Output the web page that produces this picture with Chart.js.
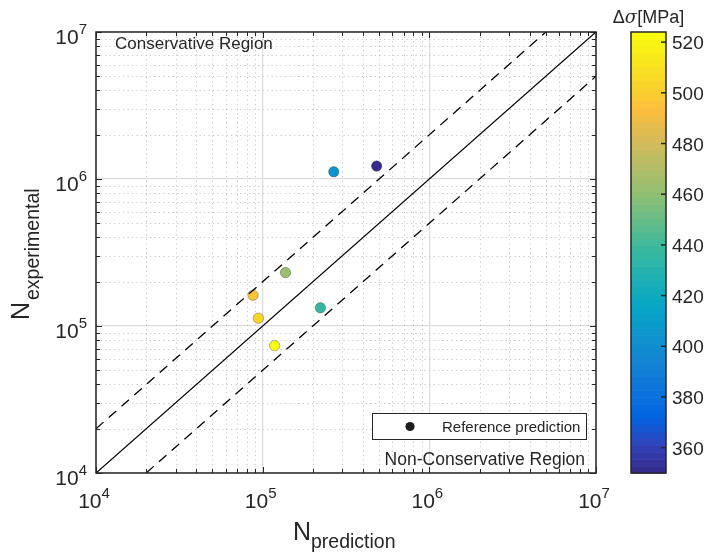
<!DOCTYPE html>
<html>
<head>
<meta charset="utf-8">
<script src="https://cdn.jsdelivr.net/npm/chart.js@4/dist/chart.umd.min.js"></script>
<style>
  html, body { margin: 0; padding: 0; background: #fff; }
  canvas { display: block; }
</style>
</head>
<body>
<canvas id="life-chart" width="705" height="559"></canvas>
<script>
'use strict';

// predicted vs experimental fatigue life, one entry per specimen
const nPrediction = [2.67e5, 4.83e5, 1.37e5, 8.75e4, 9.42e4, 2.22e5, 1.18e5];
const nExperimental = [1.12e6, 1.225e6, 2.31e5, 1.62e5, 1.13e5, 1.33e5, 7.35e4];
const stressRange = [405, 350, 464, 497, 503, 436, 524];

const axisMin = 1e4;
const axisMax = 1e7;
const decadeTicks = [1e4, 1e5, 1e6, 1e7];
const colorbarTicks = [360, 380, 400, 420, 440, 460, 480, 500, 520];
const scatterBand = 2;

const fontFamily = '"Liberation Sans", Arial, Helvetica, sans-serif';
const inkColor = '#262626';

// parula-like colormap stops [t, r, g, b]
const parulaStops = [
    [0.000, 53, 42, 135],
    [0.063, 50, 67, 186],
    [0.127, 3, 99, 225],
    [0.190, 13, 117, 220],
    [0.254, 20, 133, 212],
    [0.381, 6, 167, 198],
    [0.508, 56, 185, 158],
    [0.635, 146, 191, 115],
    [0.762, 217, 186, 86],
    [0.825, 253, 190, 61],
    [0.889, 247, 216, 38],
    [1.000, 249, 251, 14]
];

const cMin = Math.min(...stressRange);
const cMax = Math.max(...stressRange);

function parula(t) {
    t = Math.max(0, Math.min(1, t));
    for (let i = 1; i < parulaStops.length; i++) {
        let a = parulaStops[i - 1];
        let b = parulaStops[i];
        if (t <= b[0]) {
            let f = (t - a[0]) / (b[0] - a[0]);
            let rgb = [1, 2, 3].map(k => Math.round(a[k] + (b[k] - a[k]) * f));
            return `rgb(${rgb[0]},${rgb[1]},${rgb[2]})`;
        }
    }
    return 'rgb(249,251,14)';
}

function colorForStress(v) {
    return parula((v - cMin) / (cMax - cMin));
}

let scatterPoints = nPrediction.map((x, i) => ({ x: x, y: nExperimental[i] }));
let pointColors = stressRange.map(colorForStress);

let oneToOne = [{ x: axisMin, y: axisMin }, { x: axisMax, y: axisMax }];
let upperBand = [{ x: axisMin, y: axisMin * scatterBand }, { x: axisMax / scatterBand, y: axisMax }];
let lowerBand = [{ x: axisMin * scatterBand, y: axisMin }, { x: axisMax, y: axisMax / scatterBand }];

function minorValues() {
    let vals = [];
    for (let d = axisMin; d < axisMax; d *= 10) {
        for (let m = 2; m <= 9; m++) {
            vals.push(d * m);
        }
    }
    return vals;
}

function drawPower(ctx, exp, x, y, align) {
    ctx.font = `21px ${fontFamily}`;
    let baseW = ctx.measureText('10').width;
    ctx.font = `15px ${fontFamily}`;
    let expW = ctx.measureText(String(exp)).width;
    let left = align === 'center' ? x - (baseW + expW) / 2 : x - baseW - expW;
    ctx.textAlign = 'left';
    ctx.textBaseline = 'alphabetic';
    ctx.font = `21px ${fontFamily}`;
    ctx.fillText('10', left, y);
    ctx.font = `15px ${fontFamily}`;
    ctx.fillText(String(exp), left + baseW, y - 10);
}

const matlabAxes = {
    id: 'matlabAxes',
    beforeDatasetsDraw(chart) {
        let ctx = chart.ctx;
        let area = chart.chartArea;
        let xs = chart.scales.x;
        let ys = chart.scales.y;
        ctx.save();
        ctx.strokeStyle = 'rgba(175,175,175,0.7)';
        ctx.lineWidth = 1;
        ctx.setLineDash([1.2, 3.3]);
        minorValues().forEach(v => {
            let px = Math.round(xs.getPixelForValue(v)) + 0.5;
            ctx.beginPath();
            ctx.moveTo(px, area.top);
            ctx.lineTo(px, area.bottom);
            ctx.stroke();
            let py = Math.round(ys.getPixelForValue(v)) + 0.5;
            ctx.beginPath();
            ctx.moveTo(area.left, py);
            ctx.lineTo(area.right, py);
            ctx.stroke();
        });
        ctx.restore();
    },
    afterDatasetsDraw(chart) {
        let ctx = chart.ctx;
        let area = chart.chartArea;
        let xs = chart.scales.x;
        let ys = chart.scales.y;
        ctx.save();

        // tick marks on all four sides, pointing inwards
        ctx.strokeStyle = inkColor;
        ctx.lineWidth = 1;
        let tickList = decadeTicks.map(v => [v, 6]).concat(minorValues().map(v => [v, 4]));
        tickList.forEach(([v, len]) => {
            let px = Math.round(xs.getPixelForValue(v)) + 0.5;
            let py = Math.round(ys.getPixelForValue(v)) + 0.5;
            ctx.beginPath();
            ctx.moveTo(px, area.bottom); ctx.lineTo(px, area.bottom - len);
            ctx.moveTo(px, area.top); ctx.lineTo(px, area.top + len);
            ctx.moveTo(area.left, py); ctx.lineTo(area.left + len, py);
            ctx.moveTo(area.right, py); ctx.lineTo(area.right - len, py);
            ctx.stroke();
        });

        // axes box
        ctx.lineWidth = 1.5;
        ctx.strokeRect(area.left, area.top, area.right - area.left, area.bottom - area.top);

        // tick labels
        ctx.fillStyle = inkColor;
        decadeTicks.forEach(v => {
            let exp = Math.round(Math.log10(v));
            drawPower(ctx, exp, xs.getPixelForValue(v) - 2, area.bottom + 35, 'center');
            drawPower(ctx, exp, area.left - 9, ys.getPixelForValue(v) + 11.5, 'right');
        });

        // axis titles
        ctx.textAlign = 'left';
        ctx.font = `25px ${fontFamily}`;
        ctx.fillText('N', 293, 540);
        ctx.font = `19.5px ${fontFamily}`;
        ctx.fillText('prediction', 311, 548);

        ctx.save();
        ctx.translate(29, 320);
        ctx.rotate(-Math.PI / 2);
        ctx.font = `25px ${fontFamily}`;
        ctx.fillText('N', 0, 0);
        ctx.font = `19.5px ${fontFamily}`;
        ctx.fillText('experimental', 20, 10);
        ctx.restore();

        // region notes
        ctx.font = `17px ${fontFamily}`;
        ctx.textAlign = 'left';
        ctx.fillText('Conservative Region', area.left + 19, area.top + 17);
        ctx.font = `17.5px ${fontFamily}`;
        ctx.textAlign = 'right';
        ctx.fillText('Non-Conservative Region', area.right - 11, area.bottom - 8);

        // legend box
        let lx = 372, ly = 413, lw = 214, lh = 26;
        ctx.fillStyle = '#fff';
        ctx.fillRect(lx, ly, lw, lh);
        ctx.strokeStyle = inkColor;
        ctx.lineWidth = 1;
        ctx.strokeRect(lx + 0.5, ly + 0.5, lw, lh);
        ctx.fillStyle = '#1c1c1c';
        ctx.beginPath();
        ctx.arc(410, 426.5, 4.6, 0, Math.PI * 2);
        ctx.fill();
        ctx.fillStyle = inkColor;
        ctx.font = `15px ${fontFamily}`;
        ctx.textAlign = 'left';
        ctx.fillText(chart.data.datasets[3].label, 442, 432);

        // colorbar
        let cbLeft = 631, cbRight = 666;
        let cbTop = area.top, cbBottom = area.bottom;
        let bands = 64;
        let bandH = (cbBottom - cbTop) / bands;
        for (let i = 0; i < bands; i++) {
            ctx.fillStyle = parula((i + 0.5) / bands);
            ctx.fillRect(cbLeft, cbBottom - (i + 1) * bandH, cbRight - cbLeft, bandH + 0.6);
        }
        ctx.strokeStyle = inkColor;
        ctx.lineWidth = 1.5;
        ctx.strokeRect(cbLeft, cbTop, cbRight - cbLeft, cbBottom - cbTop);
        ctx.lineWidth = 1.5;
        ctx.fillStyle = inkColor;
        ctx.font = `19px ${fontFamily}`;
        ctx.textAlign = 'left';
        colorbarTicks.forEach(v => {
            let py = cbBottom - (v - cMin) / (cMax - cMin) * (cbBottom - cbTop);
            ctx.beginPath();
            ctx.moveTo(cbRight, py);
            ctx.lineTo(cbRight - 5, py);
            ctx.stroke();
            ctx.fillText(String(v), 672, py + 7);
        });

        // colorbar title
        ctx.font = `18px ${fontFamily}`;
        let w1 = ctx.measureText('\u0394').width;
        ctx.font = `italic 18px "DejaVu Serif", serif`;
        let w2 = ctx.measureText('\u03c3').width;
        ctx.font = `18px ${fontFamily}`;
        let w3 = ctx.measureText('[MPa]').width;
        let tx = (cbLeft + cbRight) / 2 - (w1 + w2 + w3) / 2;
        ctx.fillText('\u0394', tx, 23);
        ctx.font = `italic 18px "DejaVu Serif", serif`;
        ctx.fillText('\u03c3', tx + w1, 23);
        ctx.font = `18px ${fontFamily}`;
        ctx.fillText('[MPa]', tx + w1 + w2, 23);

        ctx.restore();
    }
};

let logAxis = (size) => ({
    type: 'logarithmic',
    min: axisMin,
    max: axisMax,
    afterFit: s => { s[size] = size === 'height' ? 86 : 96; },
    afterBuildTicks: s => { s.ticks = decadeTicks.map(v => ({ value: v })); },
    ticks: { display: false },
    grid: { color: 'rgb(222,222,222)', lineWidth: 1.3, drawTicks: false },
    border: { display: false }
});

const ctx = document.getElementById('life-chart').getContext('2d');
const lifeChart = new Chart(ctx, {
    type: 'scatter',
    data: {
        datasets: [
            {
                type: 'line',
                label: 'N_exp = N_pred',
                data: oneToOne,
                borderColor: '#000',
                borderWidth: 1.3,
                pointRadius: 0,
                fill: false
            },
            {
                type: 'line',
                label: 'factor 2 upper',
                data: upperBand,
                borderColor: '#000',
                borderWidth: 1.3,
                borderDash: [10, 7],
                pointRadius: 0,
                fill: false
            },
            {
                type: 'line',
                label: 'factor 2 lower',
                data: lowerBand,
                borderColor: '#000',
                borderWidth: 1.3,
                borderDash: [10, 7],
                pointRadius: 0,
                fill: false
            },
            {
                label: 'Reference prediction',
                data: scatterPoints,
                pointRadius: 5.2,
                pointBackgroundColor: pointColors,
                pointBorderColor: 'rgba(60,60,60,0.55)',
                pointBorderWidth: 0.7
            }
        ]
    },
    options: {
        responsive: false,
        animation: false,
        layout: { padding: { left: 0, top: 32, right: 109, bottom: 0 } },
        plugins: {
            legend: { display: false },
            tooltip: { enabled: false }
        },
        scales: {
            x: logAxis('height'),
            y: logAxis('width')
        }
    },
    plugins: [matlabAxes]
});
</script>
</body>
</html>
